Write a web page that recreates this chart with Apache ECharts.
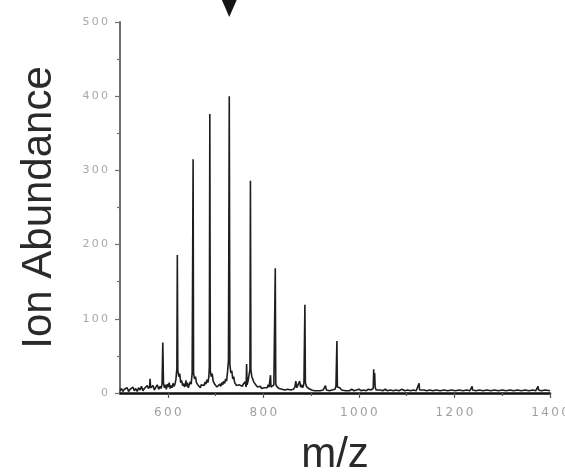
<!DOCTYPE html>
<html>
<head>
<meta charset="utf-8">
<script src="https://cdn.jsdelivr.net/npm/echarts@6/dist/echarts.min.js"></script>
<style>
html,body{margin:0;padding:0;background:#fff;}
#chart{width:565px;height:476px;}
</style>
</head>
<body>
<div id="chart"></div>
<script>
// m/z values of the profile (hand)
const mz = [
 500,503,506,509,512,515,518,521,524,527,530,533,536,539,542,545,548,551,554,557,560,562,563,564,566,569,572,575,578,581,584,586,
 588,589.6,591,593,595,597,599,601,603,605,607,609,611,613,615,617,
 619,620,621,623,625,627,629,631,633,635,637,638,639,641,643,645,647,649,651,
 652,653,654,656,658,660,662,664,666,668,670,672,674,676,678,680,682,684,686,687,
 687.5,688,689,691,693,695,697,699,701,703,705,707,709,711,713,715,717,719,721,723,725,727,
 728,728.7,730,732,734,736,738,740,742,744,746,748,750,752,754,756,758,760,762,764,765,766,768,770,772,
 772.5,773,774,776,778,780,782,784,786,788,790,792,794,796,798,800,802,804,806,808,810,812,814,815,816,818,820,822,823,
 824,825,826,828,830,833,836,839,842,845,848,851,854,857,860,863,866,868,870,872,874,876,878,880,882,884,885,
 886,887,888,890,892,895,898,901,904,907,910,913,916,919,922,925,928,930,932,935,938,941,944,947,950,952,
 953,954,955,957,960,964,968,972,976,980,985,990,995,1000,1005,1010,1015,1020,1025,1028,1030,1031,1032,1033,1034,1036,
 1040,1045,1050,1055,1060,1066,1072,1078,1084,1090,1096,1102,1108,1114,1120,1124,1125,1126,1127,1130,1136,1142,1148,1155,1162,1170,1178,1186,1194,1202,1210,1218,1226,1232,
 1236,1237,1238,1245,1252,1260,1268,1276,1284,1292,1300,1308,1316,1324,1332,1340,1348,1356,1364,1370,1374,1375,1376,1382,1390,1400
];
// ion abundance at each m/z above
const abundance = [
 3,6,2,5,3,7,2,5,4,8,3,6,2,7,4,9,3,6,5,10,6,9,19,7,5,10,4,8,11,5,9,6,
 12,68,13,7,11,5,12,8,14,6,10,7,13,9,12,18,
 33,186,31,22,26,14,17,10,13,8,12,17,9,14,7,11,15,12,27,
 28,315,26,19,22,14,16,10,12,7,11,9,13,10,15,12,18,14,22,36,
 36,376,30,22,26,16,18,11,13,8,10,7,12,9,14,11,16,13,19,16,28,44,
 44,400,38,27,30,19,22,14,16,10,12,8,11,9,13,9,12,10,15,8,39,11,16,14,32,
 32,286,30,22,24,15,17,11,12,8,10,7,9,6,8,5,7,6,9,7,11,8,9,24,8,10,7,11,12,
 12,168,12,9,11,6,8,5,7,4,6,5,7,4,6,5,8,16,7,9,6,16,8,11,7,10,14,
 14,119,14,9,11,6,7,4,5,3,5,3,4,3,5,4,6,10,4,5,3,5,4,6,5,9,
 9,70,8,6,7,4,5,3,4,3,5,3,4,5,3,4,3,5,4,6,6,32,10,27,8,4,
 3,4,3,5,3,4,3,4,3,5,3,4,3,4,3,4,4,13,4,3,4,3,4,3,4,3,4,3,4,3,4,3,4,3,
 4,9,4,3,4,3,4,3,4,3,4,3,4,3,4,3,4,3,4,3,4,9,4,3,4,3
];
const xMin = 500, xMax = 1400;
const xTickLabels = [600, 800, 1000, 1200, 1400];
const xMinorTicks = [700, 900, 1100, 1300];
const yMin = 0, yMax = 500, yStep = 100;
const markedPeak = 728.7;

const spaced = v => String(v).split('').join('\u2009');
const chart = echarts.init(document.getElementById('chart'), null, {renderer: 'canvas'});
const data = mz.map((x, i) => [x, abundance[i]]);

const option = {
  backgroundColor: '#ffffff',
  animation: false,
  grid: {left: 120, right: 15, top: 22, bottom: 83, containLabel: false, outerBoundsMode: 'none'},
  xAxis: [{
    type: 'value', min: xMin, max: xMax, interval: 100,
    name: 'm/z', nameLocation: 'middle', nameGap: 41,
    nameTextStyle: {fontFamily: 'Liberation Sans', fontSize: 42, color: '#2a2a2a'},
    axisLine: {show: true, lineStyle: {color: '#111', width: 2.5}},
    axisTick: {show: true, inside: false, length: 5, customValues: xTickLabels, lineStyle: {color: '#555', width: 1.2}},
    axisLabel: {customValues: xTickLabels, margin: 14, fontFamily: 'DejaVu Sans', fontSize: 12, color: '#a0a0a0', formatter: spaced},
    splitLine: {show: false}
  }, {
    type: 'value', min: xMin, max: xMax, interval: 100, position: 'bottom',
    axisLine: {show: false},
    axisTick: {show: true, inside: false, length: 3, customValues: xMinorTicks, lineStyle: {color: '#555', width: 1.2}},
    axisLabel: {show: false},
    splitLine: {show: false}
  }],
  yAxis: {
    type: 'value', min: yMin, max: yMax, interval: yStep,
    name: 'Ion Abundance', nameLocation: 'middle', nameRotate: 90, nameGap: 60,
    nameTextStyle: {fontFamily: 'Liberation Sans', fontSize: 42, color: '#2a2a2a'},
    axisLine: {show: true, lineStyle: {color: '#707070', width: 2}},
    axisTick: {show: true, inside: false, length: 5, lineStyle: {color: '#707070', width: 1.2}},
    minorTick: {show: true, splitNumber: 2, length: 3, lineStyle: {color: '#707070', width: 1.2}},
    axisLabel: {margin: 12, fontFamily: 'DejaVu Sans', fontSize: 11, color: '#a8a8a8', formatter: spaced},
    splitLine: {show: false}
  },
  series: [{
    type: 'line', data: data, showSymbol: false, symbol: 'none',
    lineStyle: {color: '#1e1e1e', width: 1.6}, sampling: false, clip: true
  }]
};
chart.setOption(option);
const px = chart.convertToPixel({xAxisIndex: 0, yAxisIndex: 0}, [markedPeak, 0])[0];
chart.setOption({
  graphic: [{
    type: 'polygon', silent: true,
    shape: {points: [[px - 10, -6], [px + 10, -6], [px, 17]]},
    style: {fill: '#151515'}
  }]
});
</script>
</body>
</html>
